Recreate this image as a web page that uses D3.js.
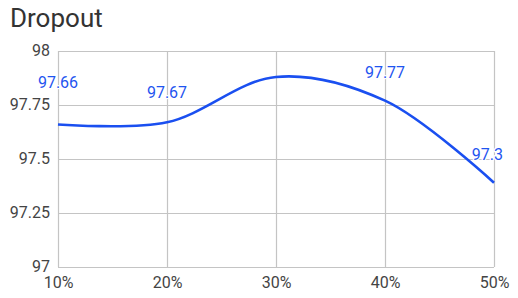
<!DOCTYPE html>
<html><head><meta charset="utf-8">
<script src="https://cdn.jsdelivr.net/npm/d3@7"></script>
<style>
html,body{margin:0;padding:0;background:#fff;}
svg{display:block;font-family:Roboto, "Noto Sans", sans-serif;}
</style></head>
<body>
<svg id="chart" width="518" height="298"></svg>
<script>
const title = "Dropout";
const categories = ["10%","20%","30%","40%","50%"];
const values = [97.66, 97.67, 97.88, 97.77, 97.39];
const labels = ["97.66","97.67","","97.77","97.3"];
const yTicks = [97, 97.25, 97.5, 97.75, 98];

const W = 518, H = 298;
const m = {top: 51, right: 24, bottom: 31, left: 58};
const svg = d3.select("#chart");

const x = d3.scalePoint().domain(categories).range([m.left, W - m.right]);
const y = d3.scaleLinear().domain([97, 98]).range([H - m.bottom, m.top]);

svg.append("text").attr("x", 10).attr("y", 27)
  .attr("font-size", 26).attr("fill", "#333").text(title);

// grid
const g = svg.append("g");
g.selectAll("line.h").data(yTicks).join("line")
  .attr("x1", m.left).attr("x2", W - m.right)
  .attr("y1", d => Math.round(y(d)) + 0.5).attr("y2", d => Math.round(y(d)) + 0.5)
  .attr("stroke", "#c4c4c4").attr("stroke-width", 1.2);
g.selectAll("line.v").data(categories).join("line")
  .attr("y1", m.top).attr("y2", H - m.bottom)
  .attr("x1", d => Math.round(x(d)) + 0.5).attr("x2", d => Math.round(x(d)) + 0.5)
  .attr("stroke", "#c4c4c4").attr("stroke-width", 1.2);

// axes
const yAxis = svg.append("g").attr("transform", `translate(${m.left - 8},0)`)
  .call(d3.axisLeft(y).tickValues(yTicks).tickSize(0).tickFormat(d => String(d)));
yAxis.select(".domain").remove();
yAxis.selectAll("text").attr("font-size", 16).attr("fill", "#444")
  .attr("font-family", "Roboto, sans-serif").attr("dy", "0.35em").attr("x", 0);
yAxis.selectAll("g.tick").attr("transform", d => `translate(0,${y(d) - 1})`);

const xAxis = svg.append("g").attr("transform", `translate(0,${H - m.bottom + 10})`)
  .call(d3.axisBottom(x).tickSize(0));
xAxis.select(".domain").remove();
xAxis.selectAll("text").attr("font-size", 16).attr("fill", "#444")
  .attr("font-family", "Roboto, sans-serif").attr("y", 0).attr("dy", "0.71em");

// line
const pts = categories.map((c, i) => [x(c), y(values[i])]);
svg.append("path").attr("d", d3.line().curve(d3.curveCatmullRom.alpha(0.5))(pts))
  .attr("fill", "none").attr("stroke", "#1a4ff0").attr("stroke-width", 2.6);

// labels
const dyOff = [-36, -24, -24, -23, -23];
svg.append("g").selectAll("text").data(labels).join("text")
  .attr("x", (d, i) => pts[i][0]).attr("y", (d, i) => pts[i][1] + dyOff[i])
  .attr("text-anchor", (d, i) => i === labels.length - 1 ? "end" : "middle")
  .attr("dx", (d, i) => i === labels.length - 1 ? 9 : 0)
  .attr("font-size", 16).attr("fill", "#1f55f0")
  .attr("stroke", "#fff").attr("stroke-width", 2.5).attr("paint-order", "stroke")
  .text(d => d);
</script>
</body></html>
